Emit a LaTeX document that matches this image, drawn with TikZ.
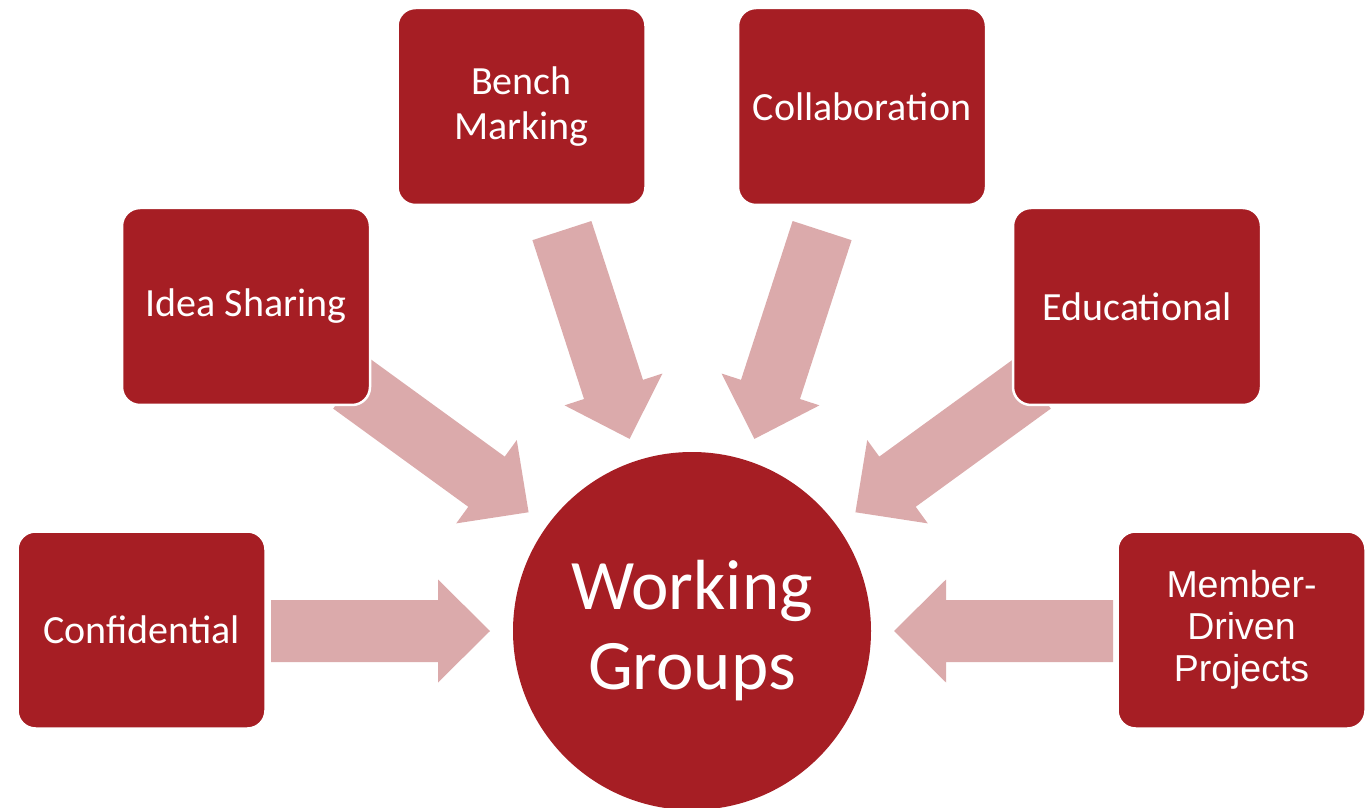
\documentclass[tikz,border=0pt]{standalone}
\usepackage{fontspec}
\setmainfont{Carlito}
\newfontfamily\arialfont{Liberation Sans}
\definecolor{boxred}{RGB}{166,30,36}
\definecolor{arrowpink}{RGB}{219,170,171}
\begin{document}
\begin{tikzpicture}[x=1pt,y=1pt,
  topic/.style={rectangle, rounded corners=18pt, fill=boxred, draw=white, line width=2.5pt,
    minimum width=248pt, minimum height=197pt, text=white, align=center,
    font=\fontsize{40}{45}\selectfont},
  hub/.style={circle, fill=boxred, minimum size=358pt, inner sep=0pt, text=white, align=center,
    font=\fontsize{71}{80}\selectfont},
  blockarrow/.style={fill=arrowpink}]
\useasboundingbox (0,0) rectangle (1365,807);
\node[hub] (wg) at (692,176) {Working\\Groups};
\foreach \a in {180,144,108,72,36,0}{
  \fill[blockarrow, shift={(wg.center)}, rotate=\a]
    (202,0) -- (254,51.5) -- (254,31) -- (421,31) -- (421,-31) -- (254,-31) -- (254,-51.5) -- cycle;
}
\node[topic] (conf) at (141.5,177) {Confidential};
\node[topic] (idea) at (246,500.5) {Idea Sharing};
\node[topic] (bench) at (521.5,700.5) {Bench\\Marking};
\node[topic] (collab) at (862,700.5) {Collaboration};
\node[topic] (edu) at (1137,500.5) {Educational};
\node[topic, font=\arialfont\fontsize{37.5}{42}\selectfont] (member) at (1241.5,177) {Member-\\Driven\\Projects};
\end{tikzpicture}
\end{document}
